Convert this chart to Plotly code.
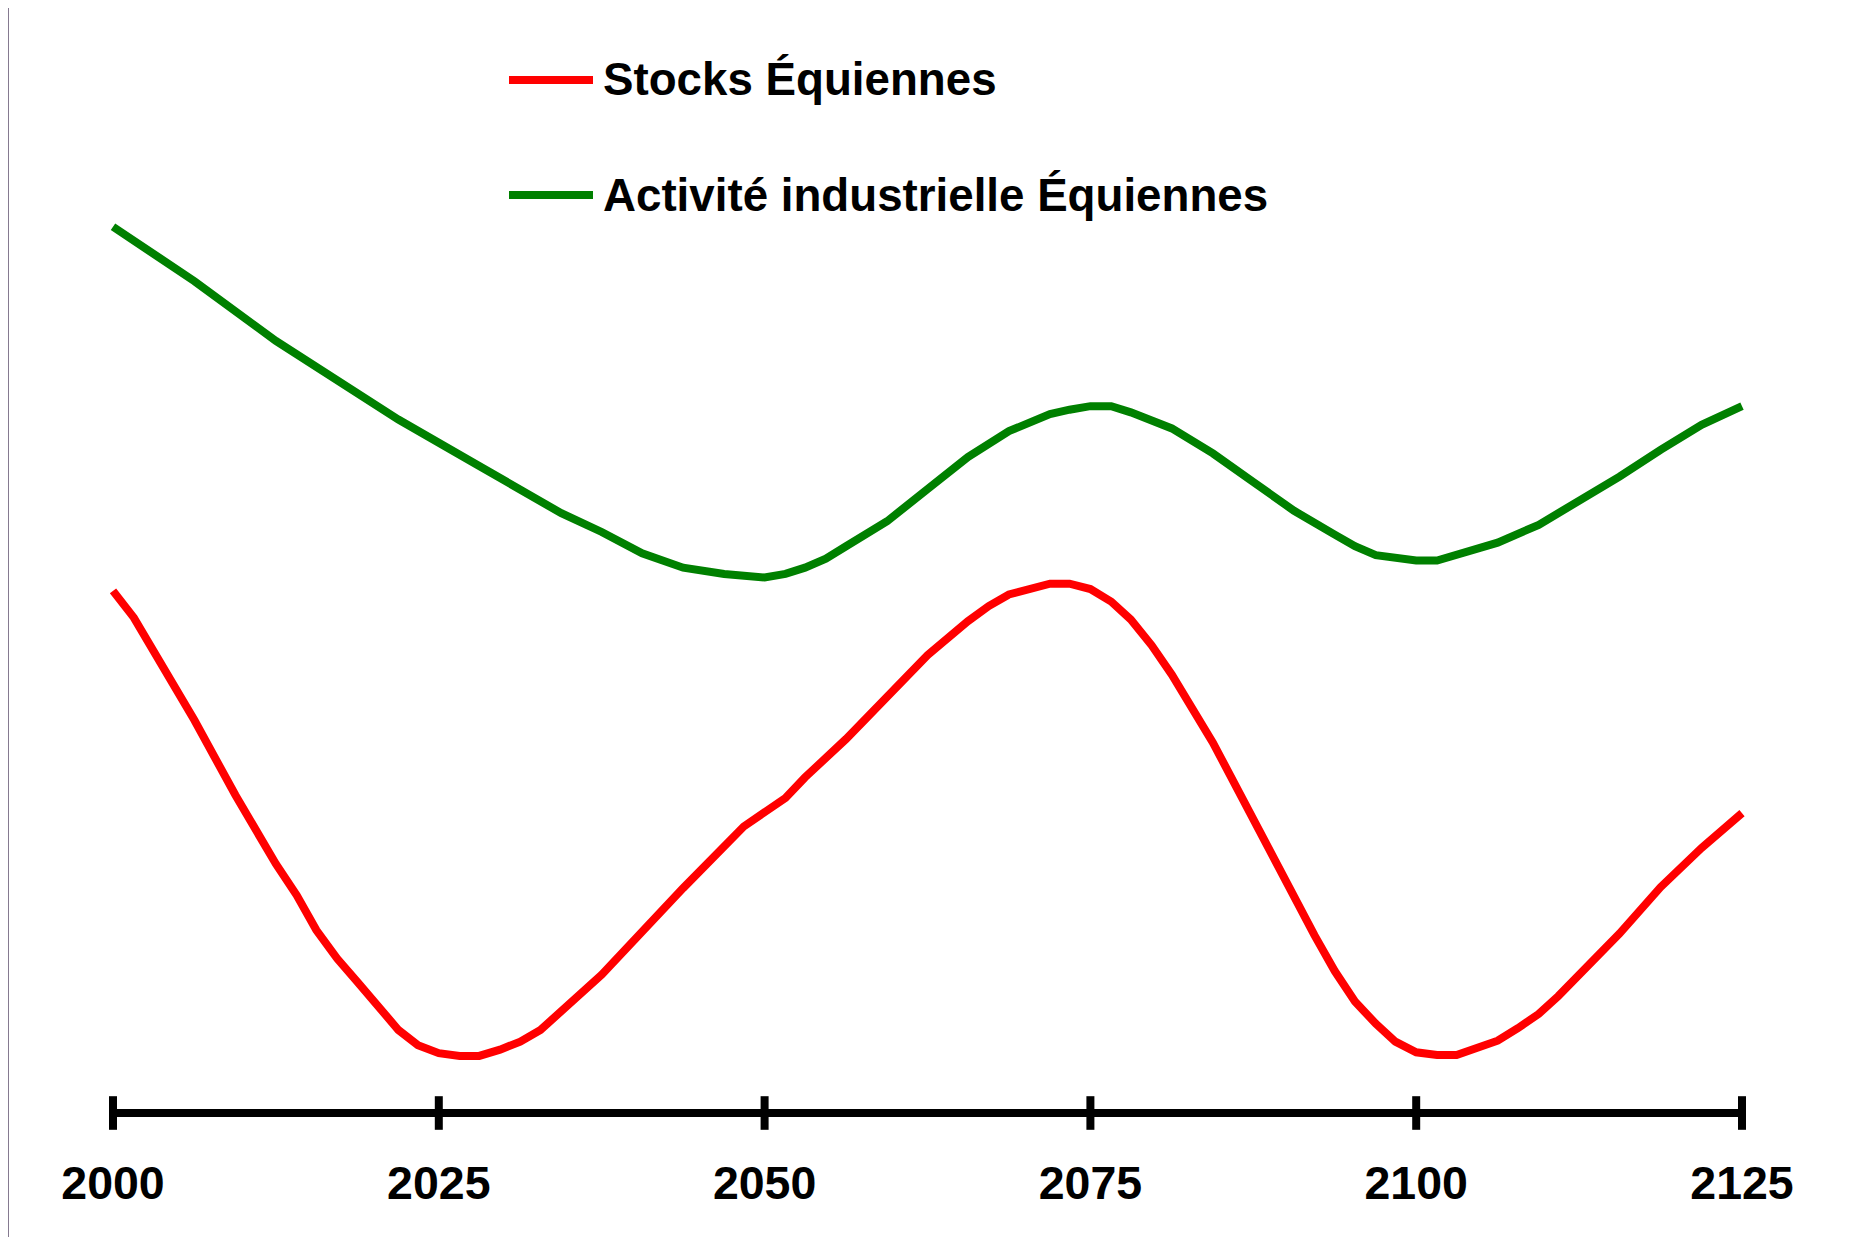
import plotly.graph_objects as go

# ---- data (arbitrary vertical units, axis baseline = 0) ----
stock_years = [2000, 2001.6, 2006.25, 2009.4, 2012.5, 2014.1, 2015.6, 2017.2, 2018.75, 2020.3,
               2021.9, 2023.4, 2025, 2026.6, 2028.1, 2029.7, 2031.25, 2032.8, 2037.5, 2043.75,
               2048.4, 2051.6, 2053.1, 2056.25, 2059.4, 2062.5, 2065.6, 2067.2, 2068.75, 2071.9,
               2073.4, 2075, 2076.6, 2078.1, 2079.7, 2081.25, 2084.4, 2087.5, 2090.6, 2092.2,
               2093.75, 2095.3, 2096.9, 2098.4, 2100, 2101.6, 2103.1, 2104.7, 2106.25, 2107.8,
               2109.4, 2110.9, 2115.6, 2118.75, 2121.9, 2125]
stock_values = [58.5, 55.5, 44.0, 35.6, 27.9, 24.4, 20.5, 17.3, 14.7, 11.9,
                9.3, 7.6, 6.7, 6.4, 6.4, 7.1, 8.0, 9.3, 15.5, 25.2,
                32.1, 35.3, 37.6, 41.9, 46.7, 51.3, 55.1, 56.8, 58.1, 59.3,
                59.3, 58.7, 57.3, 55.3, 52.4, 49.1, 41.5, 32.8, 24.4, 19.9,
                15.9, 12.5, 10.0, 8.0, 6.8, 6.5, 6.5, 7.2, 8.1, 9.5,
                11.1, 13.1, 20.1, 25.3, 29.7, 33.6]

activity_years = [2000, 2006.25, 2012.5, 2021.9, 2028.1, 2034.4, 2037.5, 2040.6, 2043.75, 2046.9,
                  2050, 2051.6, 2053.1, 2054.7, 2056.25, 2059.4, 2062.5, 2065.6, 2068.75, 2071.9,
                  2073.4, 2075, 2076.6, 2078.1, 2081.25, 2084.4, 2087.5, 2090.6, 2093.75, 2095.3,
                  2096.9, 2100, 2101.6, 2103.1, 2106.25, 2109.4, 2112.5, 2115.6, 2118.75, 2121.9,
                  2125]
activity_values = [99.3, 93.2, 86.5, 77.7, 72.5, 67.2, 65.1, 62.7, 61.1, 60.4,
                   60.0, 60.4, 61.1, 62.1, 63.5, 66.3, 69.9, 73.5, 76.4, 78.3,
                   78.8, 79.2, 79.2, 78.5, 76.7, 73.9, 70.7, 67.5, 64.8, 63.5,
                   62.5, 61.9, 61.9, 62.5, 63.9, 65.9, 68.5, 71.3, 74.3, 77.1,
                   79.2]

tick_years = [2000, 2025, 2050, 2075, 2100, 2125]
tick_labels = ["2000", "2025", "2050", "2075", "2100", "2125"]
baseline = [0, 0, 0, 0, 0, 0]

series_names = ["Stocks Équiennes", "Activité industrielle Équiennes"]
series_colors = ["#ff0000", "#008000"]

# ---- layout geometry (figure sits 8px inside the page because of the body margin) ----
W, H = 1858, 1229
L, R, T, B = 40, 59, 12, 86
plot_w = W - L - R
plot_h = H - T - B
FONT = "Liberation Sans, Arial, Helvetica, sans-serif"

X2000, X2125, Y_AXIS = 105, 1734, 1105   # figure pixels

fig = go.Figure()

fig.add_trace(go.Scatter(
    x=stock_years, y=stock_values, mode="lines", name=series_names[0],
    line=dict(color=series_colors[0], width=8), showlegend=False, hoverinfo="x+y"))
fig.add_trace(go.Scatter(
    x=activity_years, y=activity_values, mode="lines", name=series_names[1],
    line=dict(color=series_colors[1], width=8), showlegend=False, hoverinfo="x+y"))

# baseline axis with crossing ticks
fig.add_trace(go.Scatter(
    x=tick_years, y=baseline, mode="lines+markers", showlegend=False, hoverinfo="skip",
    line=dict(color="black", width=8),
    marker=dict(symbol="line-ns", size=24, color="black", line=dict(color="black", width=8)),
    cliponaxis=False))

# background (photo border approximation + white panel)
def px_x(p):
    return (p - L) / plot_w

def px_y(p):
    return (H - B - p) / plot_h

shapes = [
    dict(type="rect", xref="paper", yref="paper", x0=px_x(0), x1=px_x(W),
         y0=px_y(H), y1=px_y(0), fillcolor="#ffffff", line=dict(width=0), layer="below"),
    dict(type="rect", xref="paper", yref="paper", x0=px_x(0), x1=px_x(1),
         y0=px_y(H), y1=px_y(0), fillcolor="#857a90", line=dict(width=0), layer="below"),
    dict(type="rect", xref="paper", yref="paper", x0=px_x(1850), x1=px_x(W),
         y0=px_y(H), y1=px_y(0), fillcolor="#786f86", line=dict(width=0), layer="below"),
]

# custom legend
annotations = []
legend_rows_px = [72, 187]
for name, color, ypx in zip(series_names, series_colors, legend_rows_px):
    yp = px_y(ypx)
    shapes.append(dict(type="line", xref="paper", yref="paper",
                       x0=px_x(501), x1=px_x(585), y0=yp, y1=yp,
                       line=dict(color=color, width=8)))
    annotations.append(dict(xref="paper", yref="paper", x=px_x(593), y=yp,
                            xanchor="left", yanchor="middle", showarrow=False, text=name,
                            font=dict(family=FONT, size=45.7, color="black", weight="bold")))

px_per_year = (X2125 - X2000) / 125.0
x0 = 2000 - (X2000 - L) / px_per_year
x1 = 2125 + (W - R - X2125) / px_per_year
px_per_unit = 8.925
y_top = (Y_AXIS - T) / px_per_unit
y_bot = -((H - B) - Y_AXIS) / px_per_unit

fig.update_layout(
    width=W, height=H,
    margin=dict(l=L, r=R, t=T, b=B, pad=0),
    paper_bgcolor="#ffffff", plot_bgcolor="rgba(0,0,0,0)",
    showlegend=False,
    shapes=shapes, annotations=annotations,
    xaxis=dict(range=[x0, x1], tickmode="array", tickvals=tick_years, ticktext=tick_labels,
               showgrid=False, zeroline=False, showline=False, ticks="",
               tickfont=dict(family=FONT, size=46.5, color="black", weight="bold")),
    yaxis=dict(range=[y_bot, y_top], showgrid=False, zeroline=False, showline=False,
               showticklabels=False, ticks=""),
)

fig.write_html("out.html")
